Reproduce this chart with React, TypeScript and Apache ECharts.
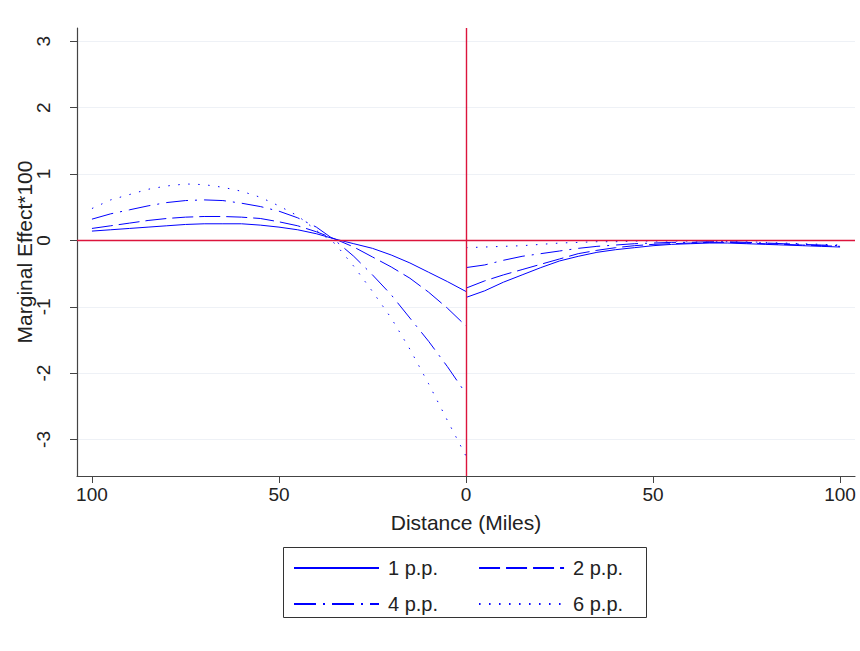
import React, { useEffect, useRef } from "react";
import * as echarts from "echarts";

// Distances (miles) on each side of the border
const leftDistances = [100, 95, 90, 85, 80, 75, 70, 65, 60, 55, 50, 45, 40, 35, 30, 25, 20, 15, 10, 5, 0];
const rightDistances = [0, 5, 10, 15, 20, 25, 30, 35, 40, 45, 50, 55, 60, 65, 70, 75, 80, 85, 90, 95, 100];

// Marginal effect * 100, left side (plotted at -distance)
const pp1Left = [0.14, 0.16, 0.18, 0.2, 0.22, 0.24, 0.25, 0.25, 0.25, 0.23, 0.2, 0.16, 0.1, 0.02, -0.05, -0.12, -0.22, -0.34, -0.48, -0.62, -0.77];
const pp2Left = [0.18, 0.22, 0.26, 0.3, 0.33, 0.35, 0.36, 0.36, 0.35, 0.33, 0.28, 0.22, 0.13, 0.02, -0.1, -0.25, -0.4, -0.57, -0.78, -1.02, -1.29];
const pp4Left = [0.32, 0.4, 0.46, 0.52, 0.57, 0.6, 0.61, 0.6, 0.56, 0.51, 0.44, 0.34, 0.2, 0.0, -0.24, -0.52, -0.82, -1.17, -1.52, -1.9, -2.31];
const pp6Left = [0.48, 0.61, 0.69, 0.77, 0.82, 0.85, 0.84, 0.8, 0.74, 0.65, 0.52, 0.37, 0.15, -0.05, -0.39, -0.77, -1.17, -1.64, -2.16, -2.71, -3.25];

// Right side
const pp1Right = [-0.86, -0.76, -0.63, -0.52, -0.41, -0.31, -0.24, -0.18, -0.14, -0.11, -0.08, -0.06, -0.05, -0.04, -0.04, -0.05, -0.06, -0.07, -0.08, -0.09, -0.1];
const pp2Right = [-0.72, -0.61, -0.52, -0.44, -0.36, -0.28, -0.2, -0.15, -0.11, -0.08, -0.06, -0.05, -0.04, -0.03, -0.03, -0.04, -0.05, -0.06, -0.07, -0.08, -0.09];
const pp4Right = [-0.41, -0.37, -0.3, -0.24, -0.2, -0.16, -0.12, -0.09, -0.07, -0.05, -0.04, -0.03, -0.03, -0.02, -0.02, -0.03, -0.04, -0.05, -0.06, -0.07, -0.08];
const pp6Right = [-0.11, -0.1, -0.09, -0.08, -0.06, -0.04, -0.03, -0.02, -0.02, -0.01, -0.01, -0.01, -0.01, -0.01, -0.02, -0.02, -0.03, -0.04, -0.05, -0.06, -0.07];

const seriesNames = ["1 p.p.", "2 p.p.", "4 p.p.", "6 p.p."];
const xTicks = [-100, -50, 0, 50, 100];
const yTicks = [-3, -2, -1, 0, 1, 2, 3];

const FONT = "'Liberation Sans', Arial, sans-serif";
const BLUE = "#0000ff";
const RED = "#dc143c";

export default function App() {
  const ref = useRef<HTMLDivElement>(null);

  useEffect(() => {
    if (!ref.current) return;
    const chart = echarts.init(ref.current, undefined, { renderer: "svg" });

    const dashes: any[] = ["solid", [21, 6], [22, 7, 2, 7], [1.5, 8.5]];
    const lefts = [pp1Left, pp2Left, pp4Left, pp6Left];
    const rights = [pp1Right, pp2Right, pp4Right, pp6Right];

    const series: any[] = [];
    seriesNames.forEach((name, i) => {
      const style = { color: BLUE, width: 1, type: dashes[i] };
      series.push({
        name,
        type: "line",
        showSymbol: false,
        symbol: "none",
        color: BLUE,
        lineStyle: style,
        data: leftDistances.map((d, k) => [-d, lefts[i][k]]),
        z: 3,
      });
      series.push({
        name,
        type: "line",
        showSymbol: false,
        symbol: "none",
        color: BLUE,
        lineStyle: style,
        data: rightDistances.map((d, k) => [d, rights[i][k]]),
        z: 3,
      });
    });
    series[0].markLine = {
      silent: true,
      symbol: ["none", "none"],
      animation: false,
      label: { show: false },
      lineStyle: { color: RED, type: "solid", width: 1.4 },
      data: [{ yAxis: 0 }, { xAxis: 0 }],
    };

    const legendCommon = {
      left: 293,
      padding: 0,
      itemWidth: 85,
      itemHeight: 14,
      itemGap: 40,
      itemStyle: { opacity: 0, color: "rgba(0,0,0,0)", borderWidth: 0 },
      textStyle: { fontFamily: FONT, fontSize: 20, color: "#222", padding: [0, 0, 0, 4], lineHeight: 20 },
      selectedMode: false,
    };

    chart.setOption({
      animation: false,
      backgroundColor: "#ffffff",
      textStyle: { fontFamily: FONT },
      grid: { left: 77, right: 5, top: 28, bottom: 175, containLabel: false, outerBoundsMode: "none" },
      legend: [
        { ...legendCommon, top: 558, data: ["1 p.p.", "2 p.p."] },
        { ...legendCommon, top: 594, data: ["4 p.p.", "6 p.p."] },
      ],
      graphic: [
        {
          type: "rect",
          shape: { x: 283.5, y: 547.5, width: 363, height: 70 },
          style: { fill: "none", stroke: "#333", lineWidth: 1 },
          silent: true,
        },
      ],
      xAxis: {
        type: "value",
        min: -104,
        max: 104,
        name: "Distance (Miles)",
        nameLocation: "middle",
        nameGap: 36,
        nameMoveOverlap: false,
        nameTextStyle: { fontFamily: FONT, fontSize: 21, color: "#222" },
        axisLine: { show: true, onZero: false, lineStyle: { color: "#444", width: 1.2 } },
        axisTick: { show: true, length: 7, customValues: xTicks, lineStyle: { color: "#444" } },
        axisLabel: {
          customValues: xTicks,
          margin: 9,
          fontFamily: FONT,
          fontSize: 19,
          color: "#222",
          formatter: (v: number) => String(Math.abs(v)),
        },
        splitLine: { show: false },
      },
      yAxis: {
        type: "value",
        min: -3.55,
        max: 3.2,
        name: "Marginal Effect*100",
        nameLocation: "middle",
        nameGap: 42,
        nameMoveOverlap: false,
        nameTextStyle: { fontFamily: FONT, fontSize: 21, color: "#222" },
        axisLine: { show: true, onZero: false, lineStyle: { color: "#444", width: 1.2 } },
        axisTick: { show: true, length: 7, customValues: yTicks, lineStyle: { color: "#444" } },
        axisLabel: {
          customValues: yTicks,
          rotate: 90,
          margin: 24,
          fontFamily: FONT,
          fontSize: 19,
          color: "#222",
        },
        splitLine: { show: true, lineStyle: { color: "#eef1f6", width: 1 } },
      },
      series,
    });

    return () => chart.dispose();
  }, []);

  return (
    <div
      ref={ref}
      style={{ position: "fixed", left: 0, top: 0, width: 860, height: 651 }}
    />
  );
}
